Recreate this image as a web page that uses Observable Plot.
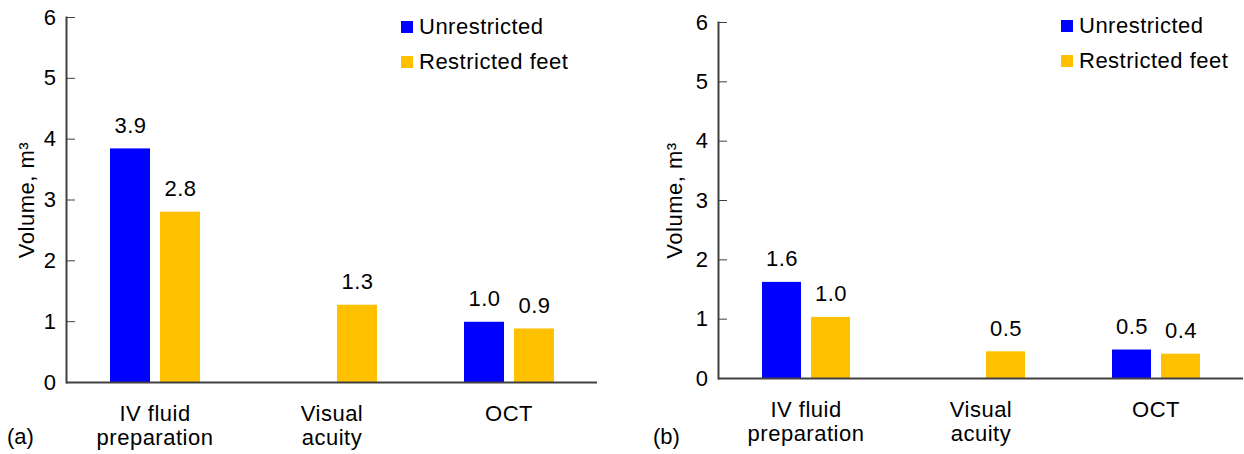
<!DOCTYPE html>
<html>
<head>
<meta charset="utf-8">
<script src="https://cdn.jsdelivr.net/npm/d3@7"></script>
<script src="https://cdn.jsdelivr.net/npm/@observablehq/plot@0.6"></script>
<style>
  body { margin: 0; background: white; }
  #wrap { position: relative; width: 1244px; height: 454px; display: flex; font-family: "Liberation Sans", Arial, sans-serif; }
  .panel { position: relative; width: 622px; height: 454px; }
  .panel svg text { letter-spacing: 0.5px; }
  .legend { position: absolute; font-size: 22px; letter-spacing: 0.5px; color: black; }
  .legend .row { display: flex; align-items: center; height: 35px; }
  .legend .sw { width: 12px; height: 12px; margin-right: 6px; }
  .plabel { position: absolute; font-size: 22px; color: black; }
</style>
</head>
<body>
<div id="wrap"></div>
<script>
const categories = ["IV fluid\npreparation", "Visual\nacuity", "OCT"];
const series = ["Unrestricted", "Restricted feet"];
const seriesColors = ["#0000FF", "#FFC000"];
const yTicks = [0, 1, 2, 3, 4, 5, 6];
const panelNames = ["(a)", "(b)"];
// bar heights
const panelAUnrestricted = [3.84, null, 0.99];
const panelARestricted = [2.80, 1.27, 0.88];
const panelBUnrestricted = [1.62, null, 0.48];
const panelBRestricted = [1.03, 0.45, 0.41];
// printed value labels
const panelAUnrestrictedLabels = ["3.9", null, "1.0"];
const panelARestrictedLabels = ["2.8", "1.3", "0.9"];
const panelBUnrestrictedLabels = ["1.6", null, "0.5"];
const panelBRestrictedLabels = ["1.0", "0.5", "0.4"];

function rowsFor(unres, res, unresLab, resLab) {
  const rows = [];
  categories.forEach((c, i) => {
    if (unres[i] != null) rows.push({category: c, series: series[0], value: unres[i], label: unresLab[i]});
    if (res[i] != null) rows.push({category: c, series: series[1], value: res[i], label: resLab[i]});
  });
  return rows;
}

const panels = [
  {rows: rowsFor(panelAUnrestricted, panelARestricted, panelAUnrestrictedLabels, panelARestrictedLabels), marginLeft: 66, marginRight: 25, marginTop: 17, marginBottom: 72, labelOffset: 48, legendLeft: 401, legendTop: 9, labelLeft: 7},
  {rows: rowsFor(panelBUnrestricted, panelBRestricted, panelBUnrestrictedLabels, panelBRestrictedLabels), marginLeft: 95, marginRight: 1, marginTop: 22, marginBottom: 76, labelOffset: 52, legendLeft: 439, legendTop: 8, labelLeft: 31}
];

const wrap = document.getElementById("wrap");
panels.forEach((p, idx) => {
  const div = document.createElement("div");
  div.className = "panel";
  const chart = Plot.plot({
    width: 622,
    height: 454,
    marginLeft: p.marginLeft,
    marginRight: p.marginRight,
    marginTop: p.marginTop,
    marginBottom: p.marginBottom,
    style: {fontFamily: "'Liberation Sans', Arial, sans-serif", fontSize: "22px", color: "black", background: "white", overflow: "visible"},
    fx: {domain: categories, padding: 0},
    x: {domain: series, paddingInner: 0.21, paddingOuter: 0.86, axis: null},
    y: {domain: [0, 6]},
    color: {domain: series, range: seriesColors},
    marks: [
      Plot.axisFx({anchor: "bottom", tickSize: 0, tickPadding: 21, label: null, lineHeight: 1.1, fontSize: 22}),
      Plot.axisY({ticks: yTicks, tickFormat: d => String(d), tickSize: -9, tickPadding: 19, stroke: "#404040", fontSize: 22, label: "Volume, m³", labelAnchor: "center", labelArrow: "none", labelOffset: p.labelOffset}),
      Plot.frame({anchor: "left", facetAnchor: "left", stroke: "#404040", strokeWidth: 2}),
      Plot.barY(p.rows, {fx: "category", x: "series", y: "value", fill: "series"}),
      Plot.text(p.rows, {fx: "category", x: "series", y: "value", text: "label", dy: -16, lineAnchor: "bottom", fill: "black", fontSize: 22}),
      Plot.ruleY([0], {stroke: "#404040", strokeWidth: 2})
    ]
  });
  div.appendChild(chart);
  const leg = document.createElement("div");
  leg.className = "legend";
  leg.style.left = p.legendLeft + "px";
  leg.style.top = p.legendTop + "px";
  series.forEach((s, i) => {
    const r = document.createElement("div");
    r.className = "row";
    const sw = document.createElement("span");
    sw.className = "sw";
    sw.style.background = seriesColors[i];
    const t = document.createElement("span");
    t.textContent = s;
    r.appendChild(sw); r.appendChild(t);
    leg.appendChild(r);
  });
  div.appendChild(leg);
  const pl = document.createElement("div");
  pl.className = "plabel";
  pl.style.left = p.labelLeft + "px";
  pl.style.top = "424px";
  pl.textContent = panelNames[idx];
  div.appendChild(pl);
  wrap.appendChild(div);
});
</script>
</body>
</html>
